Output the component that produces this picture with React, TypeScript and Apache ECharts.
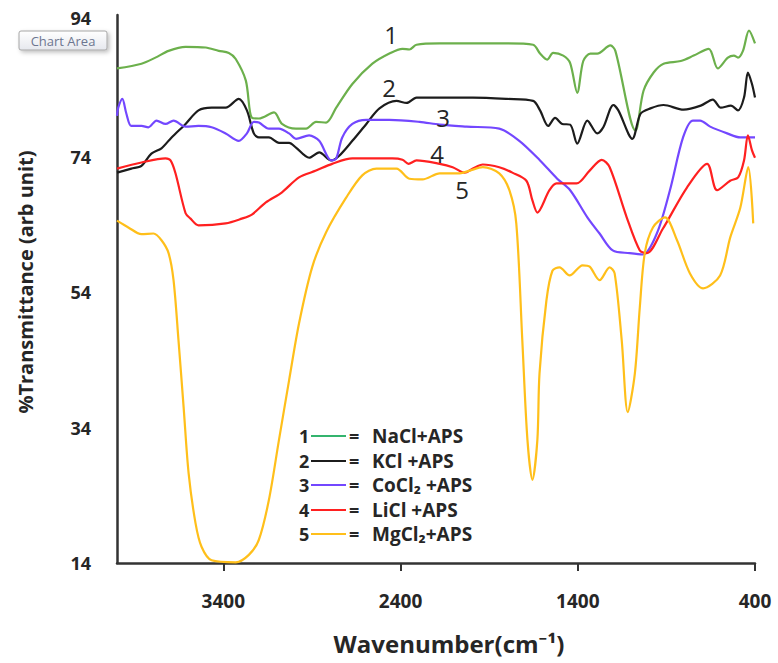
import React, { useEffect, useRef } from "react";
import * as echarts from "echarts";

// ---- Data ----
const xTicks = [3400, 2400, 1400, 400];
const yTicks = [14, 34, 54, 74, 94];

const naclWave = [4000,3862,3783,3709,3613,3500,3426,3369,3330,3273,3239,3199,3114,3069,2990,2933,2877,2820,2763,2672,2559,2463,2389,2350,2310,2179,1992,1800,1652,1613,1573,1539,1482,1443,1403,1369,1329,1290,1216,1188,1074,1029,972,916,819,746,661,610,553,519,496,468,434,400];
const naclT = [87.1,87.8,88.7,89.7,90.3,90.2,89.7,89.4,88.5,85.3,79.8,79.7,80.6,78.9,78.2,78.2,79.2,79.1,81.3,84.8,87.8,89.3,90.0,89.9,90.6,90.8,90.8,90.8,90.6,89.3,88.4,89.4,89.0,87.9,83.5,88.2,89.3,89.3,90.5,89.7,77.9,83.8,86.5,87.8,88.2,89.0,90.0,87.1,88.7,89.0,88.7,89.7,92.7,90.8];

const kclWave = [4000,3919,3862,3806,3749,3692,3613,3540,3466,3387,3313,3267,3228,3199,3143,3086,3029,2990,2916,2859,2791,2746,2672,2593,2519,2423,2366,2310,2179,1992,1800,1652,1613,1567,1528,1488,1443,1403,1346,1290,1256,1199,1171,1092,1046,990,916,803,706,638,593,536,496,462,440,417,400];
const kclT = [71.7,72.3,72.7,74.5,75.3,76.9,78.9,80.9,81.3,81.3,82.6,80.9,77.5,76.9,76.9,76.1,76.1,75.4,73.9,74.7,73.5,74.2,76.4,78.9,81.2,82.3,82.0,82.8,82.8,82.8,82.6,82.3,80.9,78.6,79.8,78.9,78.8,76.0,79.4,77.5,78.4,81.7,80.9,76.7,80.4,81.2,81.7,81.0,81.6,82.5,81.3,81.6,80.9,82.8,86.5,84.8,82.8];

const coclWave = [4000,3993,3970,3947,3919,3862,3823,3777,3726,3681,3613,3540,3466,3387,3313,3267,3228,3199,3143,3086,3029,2990,2916,2859,2791,2763,2729,2672,2593,2463,2293,2179,2027,1843,1730,1613,1516,1443,1346,1277,1203,1107,1033,954,880,806,750,710,653,557,483,400];
const coclT = [80.1,81.3,82.6,80.4,78.6,78.6,78.4,79.4,78.9,79.4,78.5,78.6,78.4,77.5,76.4,77.5,79.2,79.1,78.2,78.2,77.5,76.7,77.2,76.4,73.5,73.8,76.9,78.9,79.5,79.5,79.2,78.8,78.5,78.2,76.4,73.5,70.8,69.1,65.1,62.7,60.2,59.8,59.6,62.7,69.1,76.9,79.4,79.4,78.5,77.5,76.9,76.9];

const liclWave = [4000,3862,3726,3698,3670,3613,3585,3540,3387,3296,3239,3160,3069,2973,2877,2786,2672,2446,2389,2355,2310,2179,2106,2038,1992,1936,1843,1769,1690,1656,1628,1560,1520,1407,1333,1265,1220,1124,1050,1010,920,784,670,614,540,495,462,440,417,400];
const liclT = [72.3,73.2,73.8,73.5,71.6,65.7,64.9,63.9,64.2,64.9,65.5,67.3,68.8,71.0,72.0,73.0,73.8,73.8,73.6,73.0,73.5,73.0,72.5,71.7,72.3,72.9,72.5,71.7,70.5,67.6,65.8,69.1,70.1,70.1,72.0,73.6,72.5,65.1,60.2,59.8,63.4,69.5,73.0,69.1,70.5,71.0,73.5,77.2,75.0,73.9];

const mgclWave = [4000,3936,3862,3794,3749,3709,3681,3653,3624,3596,3557,3523,3466,3330,3256,3200,3143,3086,3029,2973,2899,2820,2707,2616,2536,2423,2350,2276,2179,2066,2010,1936,1843,1786,1747,1713,1684,1656,1628,1616,1577,1543,1503,1446,1373,1333,1277,1220,1192,1152,1118,1078,1050,1022,976,908,840,767,693,597,540,483,438,410];
const mgclT = [64.6,63.6,62.6,62.7,61.7,59.8,55.8,46.9,37.0,27.3,19.9,16.4,14.4,14.1,15.2,17.4,23.3,32.2,41.0,49.4,57.7,62.9,68.0,71.3,72.3,72.3,70.8,70.7,71.6,71.6,72.0,72.5,71.6,69.1,64.2,46.9,32.2,26.3,32.2,42.0,52.8,57.2,57.7,56.5,58.0,57.8,55.8,57.7,56.8,46.9,36.3,42.0,51.8,59.8,63.6,65.1,61.7,56.8,54.6,56.5,62.1,66.5,72.5,64.2];

const seriesNames = ["NaCl+APS", "KCl +APS", "CoCl₂ +APS", "LiCl +APS", "MgCl₂+APS"];
const seriesNumbers = ["1", "2", "3", "4", "5"];
const seriesColors = ["#6cb04c", "#1c1c1c", "#7347ff", "#ff2020", "#ffbf1a"];
const legendColors = ["#34b46e", "#1c1c1c", "#7347ff", "#ff2020", "#ffbf1a"];
const waves = [naclWave, kclWave, coclWave, liclWave, mgclWave];
const trans = [naclT, kclT, coclT, liclT, mgclT];

const TEXT = "#262626";
const FONT = "'Open Sans', 'Noto Sans', sans-serif";

export default function App() {
  const ref = useRef<HTMLDivElement>(null);
  useEffect(() => {
    if (!ref.current) return;
    const chart = echarts.init(ref.current, null, { renderer: "svg" });

    const series = waves.map((w, i) => ({
      type: "line",
      name: seriesNames[i],
      data: w.map((x, j) => [x, trans[i][j]]),
      showSymbol: false,
      smooth: 0.3,
      lineStyle: { color: seriesColors[i], width: 2.2 },
      itemStyle: { color: seriesColors[i] },
      z: 2 + i,
    }));

    const legendGraphics: any[] = [];
    const rowY = [436, 461, 485, 510, 534];
    seriesNames.forEach((n, i) => {
      legendGraphics.push({
        type: "text", x: 299, y: rowY[i],
        style: { text: seriesNumbers[i], fill: TEXT, font: `bold 18px ${FONT}`, verticalAlign: "middle", align: "left" },
      });
      legendGraphics.push({
        type: "line",
        shape: { x1: 311, y1: rowY[i], x2: 346, y2: rowY[i] },
        style: { stroke: legendColors[i], lineWidth: 2.2 },
      });
      legendGraphics.push({
        type: "text", x: 349, y: rowY[i],
        style: { text: "=", fill: TEXT, font: `bold 18px ${FONT}`, verticalAlign: "middle", align: "left" },
      });
      legendGraphics.push({
        type: "text", x: 372, y: rowY[i],
        style: { text: n, fill: TEXT, font: `bold 19px ${FONT}`, verticalAlign: "middle", align: "left" },
      });
    });

    const curveLabels = [
      { t: "1", x: 391, y: 34 },
      { t: "2", x: 389, y: 87 },
      { t: "3", x: 443, y: 117 },
      { t: "4", x: 437, y: 153 },
      { t: "5", x: 462, y: 189 },
    ].map((c) => ({
      type: "text", x: c.x, y: c.y, z: 20,
      style: { text: c.t, fill: TEXT, font: `24px ${FONT}`, align: "center", verticalAlign: "middle" },
    }));

    chart.setOption({
      animation: false,
      backgroundColor: "#ffffff",
      grid: { left: 117, right: 23, top: 15, bottom: 100, containLabel: false },
      xAxis: {
        type: "value",
        min: 400,
        max: 4000,
        inverse: true,
        name: "Wavenumber(cm⁻¹)",
        nameLocation: "middle",
        nameGap: 68,
        nameTextStyle: { color: TEXT, fontSize: 24, fontWeight: "bold", fontFamily: FONT, padding: [0, 0, 0, 26] },
        axisLine: { lineStyle: { color: "#333", width: 2.5 } },
        axisTick: { show: true, length: 8, inside: false, lineStyle: { color: "#333", width: 2 }, customValues: xTicks },
        axisLabel: {
          color: TEXT, fontSize: 19, fontWeight: "bold", fontFamily: FONT, margin: 28,
          customValues: xTicks, formatter: (v: number) => String(v),
        },
        splitLine: { show: false },
      },
      yAxis: {
        type: "value",
        min: 14,
        max: 95,
        name: "%Transmittance (arb unit)",
        nameLocation: "middle",
        nameRotate: 90,
        nameGap: 82,
        nameTextStyle: { color: TEXT, fontSize: 20, fontWeight: "bold", fontFamily: FONT, padding: [0, 0, 0, 14] },
        axisLine: { show: true, lineStyle: { color: "#333", width: 2.5 } },
        axisTick: { show: false },
        axisLabel: {
          color: TEXT, fontSize: 18, fontWeight: "bold", fontFamily: FONT, margin: 26, lineHeight: 14,
          customValues: yTicks,
          formatter: (v: number) => (v === 94 ? "{top|94}" : String(v)),
          rich: {
            top: { color: TEXT, fontSize: 18, fontWeight: "bold", fontFamily: FONT, lineHeight: 14, padding: [0, 0, 7, 0] },
          },
        },
        splitLine: { show: false },
      },
      series,
      graphic: [
        ...legendGraphics,
        ...curveLabels,
        {
          type: "rect",
          shape: { x: 19, y: 31, width: 88, height: 19, r: 2 },
          style: {
            fill: new echarts.graphic.LinearGradient(0, 0, 0, 1, [
              { offset: 0, color: "#ffffff" },
              { offset: 1, color: "#e6e8ee" },
            ]),
            stroke: "#a6a6a6",
            lineWidth: 1,
            shadowBlur: 4,
            shadowOffsetX: 2,
            shadowOffsetY: 2,
            shadowColor: "rgba(0,0,0,0.25)",
          },
          z: 30,
        },
        {
          type: "text", x: 63, y: 41, z: 31,
          style: { text: "Chart Area", fill: "#6c7690", font: `13px ${FONT}`, align: "center", verticalAlign: "middle" },
        },
      ],
    });
    return () => chart.dispose();
  }, []);
  return <div ref={ref} style={{ position: "fixed", left: 0, top: 0, width: 778, height: 663 }} />;
}
